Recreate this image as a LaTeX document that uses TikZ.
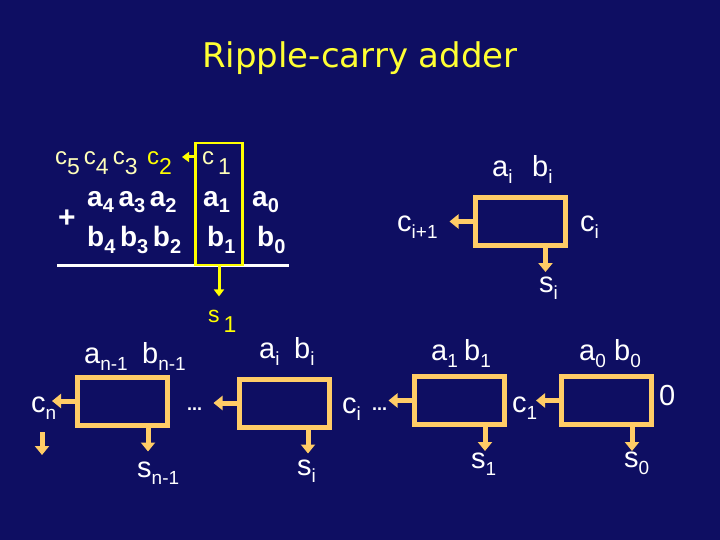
\documentclass[tikz,border=0pt]{standalone}
\usepackage{fontspec}
\setmainfont{Liberation Sans}
\newfontfamily\titlefont{DejaVu Sans}
\usetikzlibrary{arrows.meta,positioning}
\definecolor{rcbg}{RGB}{14,14,98}
\definecolor{rcorange}{RGB}{255,204,102}
\definecolor{rcyellow}{RGB}{255,255,0}
\definecolor{rcpale}{RGB}{255,255,185}
\definecolor{rctitle}{RGB}{255,255,51}
\newcommand{\lo}[1]{\raisebox{-7pt}{\fontsize{19}{21}\selectfont #1}}
\newcommand{\lob}[1]{\raisebox{-6pt}{\fontsize{20}{22}\selectfont\bfseries #1}}
\newcommand{\cl}[1]{\raisebox{-10pt}{\fontsize{23}{25}\selectfont #1}}
\tikzset{
  adder/.style={draw=rcorange, line width=5pt, minimum width=90pt, minimum height=48pt, inner sep=0pt},
  lbl/.style={text=white, font=\fontsize{29}{31}\selectfont, inner sep=0pt, anchor=base west},
  dots/.style={text=white, font=\fontsize{18}{20}\selectfont\bfseries, inner sep=0pt, anchor=base west},
  digit/.style={text=white, font=\fontsize{28}{30}\selectfont\bfseries, inner sep=0pt, anchor=base west},
  carry/.style={text=rcpale, font=\fontsize{24}{26}\selectfont, inner sep=0pt, anchor=base west},
  arr/.style={-{Triangle[width=14pt,length=9pt]}, line width=5pt, draw=rcorange},
  yarr/.style={-{Triangle[width=10pt,length=7pt]}, line width=3pt, draw=rcyellow}
}
\begin{document}
\begin{tikzpicture}[x=1pt, y=-1pt]
  \fill[rcbg] (0,0) rectangle (720,540);
  \useasboundingbox (0,0) rectangle (720,540);
  \node[text=rctitle, font=\titlefont\fontsize{34}{36}\selectfont, inner sep=0pt, anchor=base] (title) at (360,68) {Ripple-carry adder};

  % pencil-and-paper addition
  \node[carry] (c53) at (55,165) {c\cl{5}\,c\cl{4}\,c\cl{3}};
  \node[carry, text=rcyellow] (c2) at (147,165) {c\cl{2}};
  \node[carry] (c1) at (202,165) {c\,\cl{1}};
  \node[digit] (a42) at (87,207) {a\lob{4}\,a\lob{3}\,a\lob{2}};
  \node[digit] (a1) at (203,207) {a\lob{1}};
  \node[digit] (a0) at (252,207) {a\lob{0}};
  \node[digit] (b42) at (87,247) {b\lob{4}\,b\lob{3}\,b\lob{2}};
  \node[digit] (b1) at (207,247) {b\lob{1}};
  \node[digit] (b0) at (257,247) {b\lob{0}};
  \node[text=white, font=\fontsize{30}{32}\selectfont\bfseries, inner sep=0pt] (plus) at (67,219) {+};
  \draw[white, line width=3pt] (57,265) -- (289,265);
  \node[draw=rcyellow, line width=2.5pt, minimum width=47pt, minimum height=122pt, inner sep=0pt] (col1) at (219,204) {};
  \node[carry, text=rcyellow, font=\fontsize{23}{25}\selectfont] (s1top) at (208,322) {s\,\cl{1}};
  \coordinate (c2in) at (182,157);
  \draw[yarr] (col1.west |- c2in) -- (c2in);
  \draw[yarr, shorten >=13pt] (col1.south) -- (col1.south |- s1top.north);

  % one full adder
  \node[adder] (fa) at (520,221.5) {};
  \node[lbl] (ai) at (492,177) {a\lo{i}};
  \node[lbl] (bi) at (532,177) {b\lo{i}};
  \node[lbl] (cout) at (397,232) {c\lo{i+1}};
  \node[lbl] (cin) at (580,232) {c\lo{i}};
  \node[lbl] (si) at (539,292) {s\lo{i}};
  \coordinate[left=23pt of fa.west] (faout);
  \coordinate[below=24pt of fa.south, xshift=25.5pt] (fasum);
  \draw[arr] (fa.west) -- (faout);
  \draw[arr] ([xshift=25.5pt]fa.south) -- (fasum);

  % chain of adders
  \node[adder] (fan) at (122.5,401) {};
  \node[adder] (fai) at (284,403) {};
  \node[adder] (fa1) at (459,400.5) {};
  \node[adder] (fa0) at (606.5,400.5) {};

  \node[lbl] (an) at (84,363) {a\lo{n-1}};
  \node[lbl] (bn) at (142,363) {b\lo{n-1}};
  \node[lbl] (aii) at (259,358) {a\lo{i}};
  \node[lbl] (bii) at (294,358) {b\lo{i}};
  \node[lbl] (aone) at (431,360) {a\lo{1}};
  \node[lbl] (bone) at (464,360) {b\lo{1}};
  \node[lbl] (azero) at (579,360) {a\lo{0}};
  \node[lbl] (bzero) at (614,360) {b\lo{0}};

  \node[lbl] (cn) at (31,412) {c\lo{n}};
  \node[dots] (dotsn) at (187,410) {...};
  \node[lbl] (cii) at (342,413) {c\lo{i}};
  \node[dots] (dotsi) at (372,410) {...};
  \node[lbl] (cone) at (512,412) {c\lo{1}};
  \node[lbl] (zero) at (659,405) {0};

  \node[lbl] (sn) at (137,477) {s\lo{n-1}};
  \node[lbl] (sii) at (297,475) {s\lo{i}};
  \node[lbl] (sone) at (471,468) {s\lo{1}};
  \node[lbl] (szero) at (624,467) {s\lo{0}};

  \foreach \fa/\dx in {fan/25.5, fai/24, fa1/26, fa0/25.5} {
    \coordinate[left=23pt of \fa.west] (\fa out);
    \coordinate[below=24pt of \fa.south, xshift=\dx pt] (\fa sum);
    \draw[arr] (\fa.west) -- (\fa out);
    \draw[arr] ([xshift=\dx pt]\fa.south) -- (\fa sum);
  }

  \coordinate (ctop) at (42,432);
  \coordinate (cbot) at (42,455);
  \draw[arr] (ctop) -- (cbot);
\end{tikzpicture}
\end{document}
